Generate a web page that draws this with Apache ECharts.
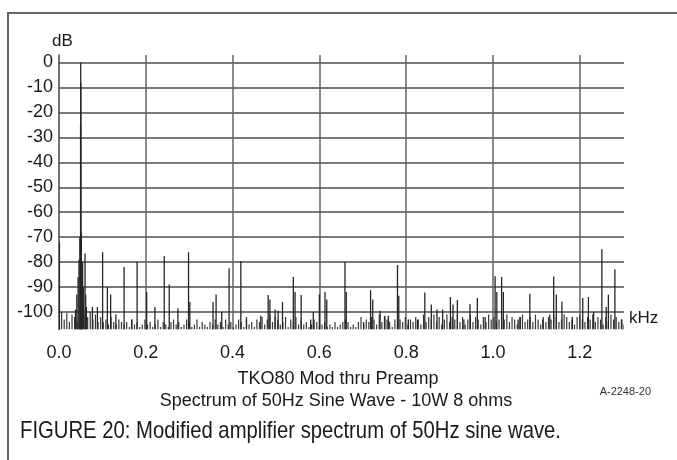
<!DOCTYPE html>
<html>
<head>
<meta charset="utf-8">
<script src="https://cdn.jsdelivr.net/npm/echarts@6/dist/echarts.min.js"></script>
<style>
  html, body { margin: 0; padding: 0; background: #fff; }
  #chart { width: 677px; height: 460px; }
</style>
</head>
<body>
<div id="chart"></div>
<script>
// Frequency axis (kHz) and level axis (dB)
const xTickLabels = [0, 0.2, 0.4, 0.6, 0.8, 1.0, 1.2];
const xGridValues = [0.2, 0.4, 0.6, 0.8, 1.0, 1.2];
const yTickLabels = [0, -10, -20, -30, -40, -50, -60, -70, -80, -90, -100];
const X_MAX = 1.302;
const Y_MIN = -107;
const Y_MAX = 3;

// Noise floor, one reading per 6 Hz bin starting at 0 Hz
const BIN_KHZ = 0.006;
const floorDb = [
  -101, -100, -103, -100.5, -104, -101, -102,
  -104, -105,
  -103, -101,
  -102, -100, -103, -101, -104, -102,
  -104, -103, -105, -102, -104, -105, -103, -104,
  -105, -104, -106, -103, -105, -104, -106, -105, -103,
  -105, -104, -106, -105, -103, -106, -104, -105, -106, -104, -103, -105,
  -104, -106, -105, -103, -104, -106, -105, -103, -106, -104, -105, -106, -104, -105, -103,
  -105, -104, -106, -103, -105, -104, -106, -105, -103, -104, -106, -102, -105, -104, -106,
  -103, -104, -102, -105, -103, -101, -104, -102, -103, -105, -104, -102, -106, -103, -104, -102, -105, -103,
  -105, -104, -106, -105, -103, -104, -106, -105, -104, -106, -105, -106, -104, -106, -105, -104, -103,
  -104, -106, -105, -106, -104, -102, -105, -103, -104, -102, -103, -105, -101, -104, -102, -103, -104, -106, -103, -105,
  -103, -104, -102, -105, -103, -104, -102, -103, -105, -101, -104, -102, -103, -101, -104, -102, -105, -103, -101, -104,
  -102, -103, -101, -104, -102, -105, -103, -101, -104, -102, -103, -105, -102, -104, -101, -103, -102, -104, -103, -102,
  -103, -101, -104, -102, -103, -105, -102, -101, -104, -103, -102, -104, -101, -103, -105, -102, -104, -102, -103, -101,
  -102, -104, -103, -101, -102, -104, -103, -105, -102, -101, -103, -104, -102, -103, -101, -104, -102, -103, -105, -102,
  -104, -101, -103, -102, -104, -103, -105
];

// Discrete spectral lines: frequency (kHz) and level (dB)
const lineKHz = [
  0.001, 0.038, 0.041, 0.044, 0.046, 0.048, 0.0497, 0.050, 0.0503, 0.0515,
  0.0545, 0.0565, 0.060, 0.0615, 0.063, 0.077, 0.0885, 0.1005, 0.1115, 0.119,
  0.131, 0.150, 0.1675, 0.180, 0.202, 0.221, 0.2425, 0.254, 0.274, 0.2985,
  0.3015, 0.355, 0.362, 0.375, 0.392, 0.419, 0.432, 0.465, 0.482, 0.486,
  0.498, 0.505, 0.515, 0.540, 0.544, 0.558, 0.580, 0.586, 0.600, 0.613,
  0.617, 0.659, 0.662, 0.702, 0.718, 0.723, 0.740, 0.751, 0.759, 0.780,
  0.783, 0.805, 0.826, 0.843, 0.858, 0.871, 0.884, 0.902, 0.908, 0.918,
  0.933, 0.947, 0.964, 0.982, 1.005, 1.009, 1.020, 1.024, 1.058, 1.063,
  1.085, 1.115, 1.131, 1.140, 1.146, 1.159, 1.183, 1.207, 1.220, 1.232,
  1.251, 1.261, 1.266, 1.281, 1.297
];
const lineDb = [
  -72, -99, -93, -86, -79, -70, -25, 0, -8, -68,
  -80, -90, -76.5, -93, -98, -98, -98, -76, -90, -93,
  -101, -82, -103, -80, -92, -98, -77.5, -89, -98.5, -76,
  -96, -96, -93, -100, -82.5, -79.5, -103, -101.5, -93.2, -95,
  -99, -99.5, -96, -86, -92, -93.2, -103, -100, -93, -92,
  -95, -80, -92, -104, -91.3, -95, -99.5, -101.5, -101.5, -81.2,
  -93.5, -103, -103, -92.2, -97, -99, -99, -94, -97, -95.2,
  -103, -96.8, -94.4, -102, -85.7, -92, -86, -92, -103, -102,
  -92.7, -103, -101, -85.8, -93, -95.8, -102, -94.4, -94, -100,
  -74.8, -98, -93.1, -82.9, -103
];

const floorData = floorDb.map((db, i) => [i * BIN_KHZ, db]);
const lineData = lineKHz.map((f, i) => [f, lineDb[i]]);

const FONT = "'Liberation Sans', Arial, Helvetica, sans-serif";

// Each spectral value is drawn as a vertical stroke rising from the bottom of the plot
function stick(color, width) {
  return function (params, api) {
    const f = api.value(0);
    const top = api.coord([f, api.value(1)]);
    const base = api.coord([f, Y_MIN]);
    return {
      type: 'line',
      shape: { x1: top[0], y1: top[1], x2: base[0], y2: base[1] },
      style: { stroke: color, lineWidth: width }
    };
  };
}

const chart = echarts.init(document.getElementById('chart'), null, { renderer: 'canvas' });

chart.setOption({
  backgroundColor: '#ffffff',
  animation: false,
  grid: { left: 59, right: 53, top: 55, bottom: 130.5, containLabel: false },
  xAxis: {
    type: 'value',
    min: 0,
    max: X_MAX,
    axisLine: { show: false },
    axisTick: { show: false, customValues: xGridValues },
    axisLabel: {
      customValues: xTickLabels,
      formatter: v => v.toFixed(1),
      fontFamily: FONT,
      fontSize: 18,
      color: '#1a1a1a',
      margin: 15
    },
    splitLine: { show: true, lineStyle: { color: '#646464', width: 1.5 } }
  },
  yAxis: {
    type: 'value',
    min: Y_MIN,
    max: Y_MAX,
    axisLine: { show: true, lineStyle: { color: '#444', width: 1.5 } },
    axisTick: { show: false, customValues: yTickLabels },
    axisLabel: {
      customValues: yTickLabels,
      fontFamily: FONT,
      fontSize: 18,
      color: '#1a1a1a',
      margin: 6
    },
    splitLine: { show: true, lineStyle: { color: '#4c4c4c', width: 1.6 } }
  },
  series: [
    {
      name: 'floor',
      type: 'custom',
      renderItem: stick('#383838', 1.2),
      encode: { x: 0, y: 1 },
      data: floorData,
      clip: true,
      silent: true
    },
    {
      name: 'lines',
      type: 'custom',
      renderItem: stick('#262626', 1.3),
      encode: { x: 0, y: 1 },
      data: lineData,
      clip: true,
      silent: true
    }
  ],
  graphic: [
    {
      type: 'rect',
      shape: { x: 8, y: 13, width: 720, height: 500 },
      style: { fill: 'none', stroke: '#666', lineWidth: 2 },
      silent: true
    },
    {
      type: 'text', x: 52, y: 41,
      style: { text: 'dB', font: '17px ' + FONT, fill: '#1a1a1a', align: 'left', verticalAlign: 'middle' }
    },
    {
      type: 'text', x: 629, y: 318,
      style: { text: 'kHz', font: '17px ' + FONT, fill: '#1a1a1a', align: 'left', verticalAlign: 'middle' }
    },
    {
      type: 'text', x: 338, y: 379,
      style: { text: 'TKO80 Mod thru Preamp', font: '18px ' + FONT, fill: '#1a1a1a', align: 'center', verticalAlign: 'middle' }
    },
    {
      type: 'text', x: 336, y: 401,
      style: { text: 'Spectrum of 50Hz Sine Wave - 10W 8 ohms', font: '18px ' + FONT, fill: '#1a1a1a', align: 'center', verticalAlign: 'middle' }
    },
    {
      type: 'text', x: 651, y: 392,
      style: { text: 'A-2248-20', font: '11px ' + FONT, fill: '#333', align: 'right', verticalAlign: 'middle' }
    },
    {
      type: 'text', x: 20, y: 431, scaleX: 0.845,
      style: { text: 'FIGURE 20: Modified amplifier spectrum of 50Hz sine wave.', font: '24px ' + FONT, fill: '#1a1a1a', align: 'left', verticalAlign: 'middle' }
    }
  ]
});
</script>
</body>
</html>
